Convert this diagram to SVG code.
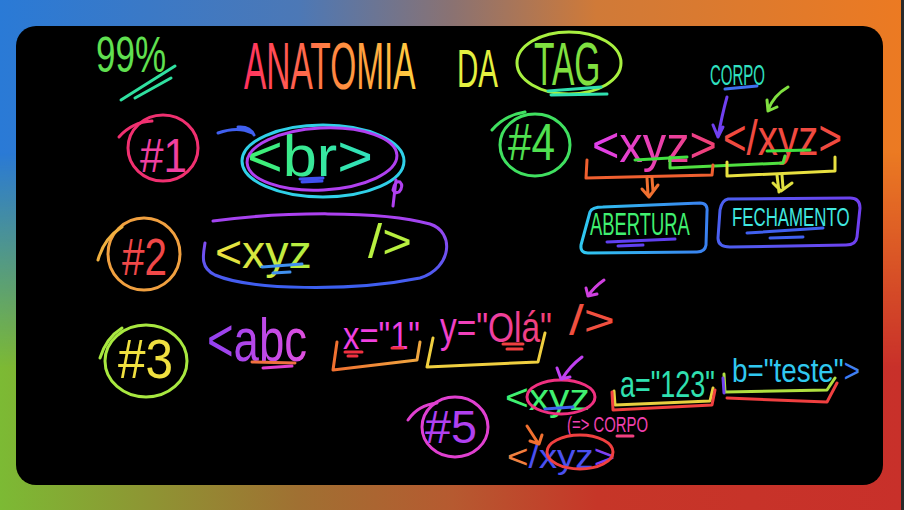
<svg xmlns="http://www.w3.org/2000/svg" width="904" height="510" viewBox="0 0 904 510">
<defs>
<linearGradient id="bgTop" x1="0" y1="0" x2="904" y2="0" gradientUnits="userSpaceOnUse">
<stop offset="0" stop-color="#2a7ad6"/><stop offset="0.33" stop-color="#4c78b6"/><stop offset="0.5" stop-color="#8a7272"/><stop offset="0.66" stop-color="#d07a38"/><stop offset="1" stop-color="#ec7a22"/>
</linearGradient>
<linearGradient id="bgBot" x1="0" y1="0" x2="904" y2="0" gradientUnits="userSpaceOnUse">
<stop offset="0" stop-color="#7cba34"/><stop offset="0.33" stop-color="#a07032"/><stop offset="0.5" stop-color="#b65a30"/><stop offset="0.66" stop-color="#c63628"/><stop offset="1" stop-color="#c8302a"/>
</linearGradient>
<linearGradient id="fade" x1="0" y1="0" x2="0" y2="510" gradientUnits="userSpaceOnUse">
<stop offset="0.3" stop-color="#000"/><stop offset="0.72" stop-color="#fff"/>
</linearGradient>
<mask id="bm"><rect width="904" height="510" fill="url(#fade)"/></mask>
<linearGradient id="gTitle" x1="0" y1="0" x2="1" y2="0">
<stop offset="0" stop-color="#ff3060"/><stop offset="0.55" stop-color="#ff8a40"/><stop offset="1" stop-color="#ffd040"/>
</linearGradient>
<linearGradient id="gBr" x1="0" y1="0" x2="1" y2="0">
<stop offset="0" stop-color="#40f070"/><stop offset="1" stop-color="#30e0c0"/>
</linearGradient>
<linearGradient id="gXyz2" x1="0" y1="0" x2="1" y2="0">
<stop offset="0" stop-color="#f0e040"/><stop offset="1" stop-color="#b0f040"/>
</linearGradient>
<linearGradient id="gEll2" x1="0" y1="212" x2="0" y2="288" gradientUnits="userSpaceOnUse">
<stop offset="0" stop-color="#b040f0"/><stop offset="1" stop-color="#3a60f0"/>
</linearGradient>
<linearGradient id="gAbc" x1="0" y1="0" x2="1" y2="0">
<stop offset="0" stop-color="#9040f0"/><stop offset="1" stop-color="#e050e0"/>
</linearGradient>
<linearGradient id="gOla" x1="0" y1="0" x2="1" y2="0">
<stop offset="0" stop-color="#f040d0"/><stop offset="1" stop-color="#f04070"/>
</linearGradient>
<linearGradient id="gBr3" x1="333" y1="0" x2="420" y2="0" gradientUnits="userSpaceOnUse">
<stop offset="0" stop-color="#f07030"/><stop offset="1" stop-color="#f0a840"/>
</linearGradient>
<linearGradient id="gOpen" x1="0" y1="0" x2="1" y2="0">
<stop offset="0" stop-color="#e040f0"/><stop offset="1" stop-color="#f04070"/>
</linearGradient>
<linearGradient id="gBoxA" x1="580" y1="0" x2="708" y2="0" gradientUnits="userSpaceOnUse">
<stop offset="0" stop-color="#30c8f0"/><stop offset="1" stop-color="#3a80f0"/>
</linearGradient>
<linearGradient id="gBoxF" x1="718" y1="0" x2="860" y2="0" gradientUnits="userSpaceOnUse">
<stop offset="0" stop-color="#4a60f0"/><stop offset="1" stop-color="#7040f0"/>
</linearGradient>
<style>
.s{fill:none;stroke-linecap:round;stroke-linejoin:round;stroke-width:3}
.t{font-family:"Liberation Sans",Arial,sans-serif;font-weight:normal}
</style>
</defs>

<g id="background">
<rect width="904" height="510" fill="url(#bgTop)"/>
<rect width="904" height="510" fill="url(#bgBot)" mask="url(#bm)"/>
<rect x="901" y="0" width="3" height="510" fill="#2a2a2a"/>
<rect x="16" y="26" width="867" height="459" rx="20" fill="#000"/>
</g>

<g id="title">
<text class="t" transform="translate(96 72) scale(0.70 1)" font-size="50" fill="#60e050">99%</text>
<path class="s" d="M121 100 L175 66 M135 98 L171 78" stroke="#30e0a0"/>
<text class="t" transform="translate(244 89) scale(0.507 1)" font-size="66" fill="url(#gTitle)">ANATOMIA</text>
<text class="t" transform="translate(457 87) scale(0.547 1)" font-size="54" fill="#e4f040">DA</text>
<text class="t" transform="translate(534 85) scale(0.541 1)" font-size="62" fill="#80e040">TAG</text>
<ellipse class="s" cx="569" cy="63" rx="52" ry="31" stroke="#a8f040"/>
<path class="s" d="M548 91 L601 87 M551 95 L607 94" stroke="#30e0b0" stroke-width="3.5"/>
</g>

<g id="n1">
<ellipse class="s" cx="163" cy="148" rx="35" ry="33" stroke="#f03070"/>
<path class="s" d="M119 137 Q132 122 152 121" stroke="#f03070"/>
<text class="t" transform="translate(140 172) scale(0.862 1)" font-size="49" fill="#f040a0">#1</text>
<text class="t" transform="translate(247 176) scale(1.056 1)" font-size="58" fill="url(#gBr)">&lt;br&gt;</text>
<ellipse class="s" cx="323" cy="161" rx="81" ry="36" stroke="#30d0e8"/>
<ellipse class="s" cx="322" cy="159" rx="75" ry="31" transform="rotate(-3 322 159)" stroke="#b040f0"/>
<path class="s" d="M300 179 L323 178 M302 182 L322 181" stroke="#4050f0" stroke-width="2.5"/>
<path class="s" d="M393 206 L396 180 M393 190 Q395 180 400 182 Q404 186 399 192 Q395 194 393 190" stroke="#b040f0" stroke-width="2.5"/>
</g>

<g id="n2">
<ellipse class="s" cx="144" cy="254" rx="36" ry="36" stroke="#f0a040"/>
<path class="s" d="M98 260 Q104 238 122 227" stroke="#f0b040"/>
<text class="t" transform="translate(122 275) scale(0.778 1)" font-size="52" fill="#f04848">#2</text>
<text class="t" transform="translate(215 268) scale(1.01 1)" font-size="46" fill="url(#gXyz2)">&lt;xyz</text>
<text class="t" transform="translate(368 258) scale(1.06 1)" font-size="48" fill="#b8f040">/&gt;</text>
<path class="s" d="M213 221 C280 212 380 210 430 224 C455 232 452 268 420 278 C350 292 250 290 215 275 C200 268 203 255 205 243" stroke="url(#gEll2)"/>
<path class="s" d="M262 267 L302 264 M273 273 L290 272" stroke="#4090f0"/>
</g>

<g id="n3">
<ellipse class="s" cx="146" cy="361" rx="41" ry="36" stroke="#a8e840"/>
<path class="s" d="M100 358 Q106 338 122 328" stroke="#a8e840"/>
<text class="t" transform="translate(118 378) scale(0.9 1)" font-size="55" fill="#f0e040">#3</text>
<text class="t" transform="translate(207 361) scale(0.735 1)" font-size="62" fill="url(#gAbc)">&lt;abc</text>
<path class="s" d="M252 362 L295 363" stroke="#f07040"/>
<path class="s" d="M263 368 L292 366" stroke="#e040d0"/>
<text class="t" transform="translate(343 349) scale(0.862 1)" font-size="38" fill="#f040e0">x="1"</text>
<path class="s" d="M345 352 L362 352 M348 356 L357 356 M392 348 L403 348" stroke="#f03040" stroke-width="2.5"/>
<path class="s" d="M337 342 L333 370 L417 360 L420 342" stroke="url(#gBr3)"/>
<text class="t" transform="translate(440 342) scale(0.796 1)" font-size="42" fill="url(#gOla)">y="Olá"</text>
<path class="s" d="M503 344 L523 344 M507 349 L522 349" stroke="#f04040" stroke-width="2.5"/>
<path class="s" d="M433 338 L427 367 L538 362 L545 333" stroke="#f0d040"/>
<text class="t" transform="translate(569 335) scale(1.27 1)" font-size="42" fill="#f05040">/&gt;</text>
</g>

<g id="n4">
<ellipse class="s" cx="535" cy="145" rx="35" ry="31" stroke="#40e060"/>
<path class="s" d="M492 130 Q505 115 525 112" stroke="#40e060"/>
<text class="t" transform="translate(508 160) scale(0.813 1)" font-size="52" fill="#50e050">#4</text>
<text class="t" transform="translate(592 162) scale(0.937 1)" font-size="50" fill="url(#gOpen)">&lt;xyz&gt;</text>
<text class="t" transform="translate(723 155) scale(0.808 1)" font-size="50" fill="#f04a40">&lt;/xyz&gt;</text>
<path class="s" d="M635 160 L687 157 M767 151 L810 150" stroke="#40e040"/>
<path class="s" d="M670 157 L670 168 L783 163 L785 156" stroke="#50e040"/>
<path class="s" d="M587 160 L586 178 L712 175 L713 165" stroke="#f06030"/>
<path class="s" d="M727 162 L727 176 L835 171 L835 157" stroke="#e8e040"/>
<text class="t" transform="translate(710 85) scale(0.5 1)" font-size="30" fill="#30e0c0">CORPO</text>
<path class="s" d="M725 89 L757 86" stroke="#4070f0"/>
<g id="abertura">
<path class="s" d="M603 207 L700 203 Q708 203 707 212 L706 245 Q705 252 697 252 L588 253 Q580 253 581 245 L590 212 Q592 207 603 207" stroke="url(#gBoxA)"/>
<text class="t" transform="translate(590 235) scale(0.574 1)" font-size="32" fill="#40f070">ABERTURA</text>
<path class="s" d="M607 242 L675 239 M618 246 L643 245" stroke="#6040f0"/>
</g>
<g id="fechamento">
<path class="s" d="M728 199 L850 198 Q860 198 860 208 L857 237 Q856 245 846 245 L730 247 Q718 247 718 238 L720 210 Q722 200 728 199" stroke="url(#gBoxF)"/>
<text class="t" transform="translate(732 226) scale(0.648 1)" font-size="26" fill="#40e8e0">FECHAMENTO</text>
<path class="s" d="M747 233 L823 228 M770 238 L803 237" stroke="#4060f0"/>
</g>
</g>

<g id="n5">
<ellipse class="s" cx="455" cy="427" rx="33" ry="30" stroke="#e040d0"/>
<path class="s" d="M408 420 Q418 405 437 403" stroke="#e040d0"/>
<text class="t" transform="translate(425 443) scale(1.016 1)" font-size="46" fill="#b040f0">#5</text>
<text class="t" transform="translate(505 410) scale(1.13 1)" font-size="36" fill="#40f070">&lt;xyz</text>
<ellipse class="s" cx="561" cy="397" rx="34" ry="17" stroke="#f03080"/>
<path class="s" d="M545 409 L573 407" stroke="#4060f0"/>
<text class="t" transform="translate(620 397) scale(0.75 1)" font-size="36" fill="#30e0b0">a="123"</text>
<path class="s" d="M614 391 L615 405 L710 401 L713 388" stroke="#e8d040"/>
<path class="s" d="M612 392 L613 410 L712 405 L715 390" stroke="#f04040"/>
<text class="t" transform="translate(732 382) scale(0.818 1)" font-size="34" fill="#30c8f0">b="teste"<tspan fill="#4080f0">&gt;</tspan></text>
<path class="s" d="M724 374 L725 392 L827 390 L835 378" stroke="#b0e040"/>
<path class="s" d="M727 398 L827 402 L837 383" stroke="#f04040"/>
<path class="s" d="M723 378 L724 393" stroke="#7040f0"/>
<text class="t" transform="translate(567 432) scale(0.676 1)" font-size="22" fill="#f040b0">(=&gt; CORPO</text>
<path class="s" d="M617 436 L633 436" stroke="#f04080" stroke-width="2.5"/>
<text class="t" transform="translate(507 468) scale(1.08 1)" font-size="34"><tspan fill="#f08040">&lt;</tspan><tspan fill="#4a50f0">/xyz</tspan><tspan fill="#8040f0">&gt;</tspan></text>
<ellipse class="s" cx="580" cy="452" rx="33" ry="17" stroke="#f04040"/>
</g>

<g id="connectors">
<path class="s" d="M604 280 Q594 287 588 296 M586 288 L588 296 L597 294" stroke="#d040e0"/>
<path class="s" d="M727 97 Q722 115 718 137 M713 125 L718 137 L723 127" stroke="#7040f0"/>
<path class="s" d="M788 87 Q774 95 768 110 M767 100 L768 111 L777 107" stroke="#80e040"/>
<path class="s" d="M647 178 L648 195 M652 178 L653 191 M642 189 L649 197 L658 185" stroke="#f07030"/>
<path class="s" d="M777 175 L779 192 M782 175 L783 188 M773 183 L781 191 L792 183" stroke="#e0e040"/>
<path class="s" d="M582 357 Q570 366 562 379 M557 368 L561 379 L570 377" stroke="#c040f0"/>
<path class="s" d="M527 426 L538 443 M530 441 L539 444 L542 435" stroke="#f07030"/>
<path class="s" d="M218 133 Q238 126 252 133 M238 127 Q250 126 254 135" stroke="#4060f0"/>
</g>
</svg>
